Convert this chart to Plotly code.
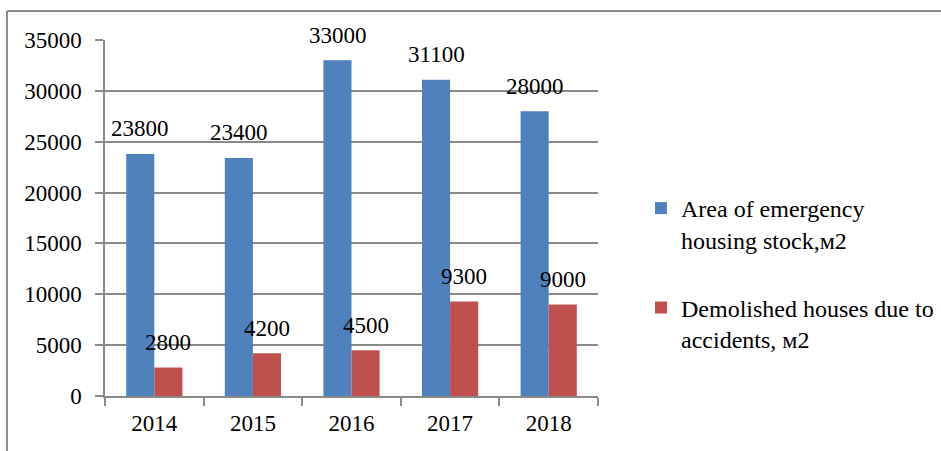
import plotly.graph_objects as go

years = ["2014", "2015", "2016", "2017", "2018"]
emergency_area = [23800, 23400, 33000, 31100, 28000]
demolished = [2800, 4200, 4500, 9300, 9000]
series_names = ["Area of emergency<br>housing stock,м2", "Demolished houses due to<br>accidents, м2"]
y_ticks = [0, 5000, 10000, 15000, 20000, 25000, 30000, 35000]

W, H = 941, 451
L, R, T, B = 105, 941 - 598, 40, 451 - 396
FONT = dict(family="Liberation Serif, Times New Roman, serif", size=23, color="#000000")
LFONT = dict(family="Liberation Serif, Times New Roman, serif", size=24, color="#000000")
GRID = "#8a8a8a"

fig = go.Figure()
fig.add_trace(go.Bar(x=years, y=emergency_area, name=series_names[0],
                     marker=dict(color="#4F81BD", line=dict(width=0)), legendgroup="a"))
fig.add_trace(go.Bar(x=years, y=demolished, name=series_names[1],
                     marker=dict(color="#C0504D", line=dict(width=0)), legendgroup="b"))

# data labels (category index positions on the category axis)
for vals, shift in ((emergency_area, -14), (demolished, 14)):
    for i, v in enumerate(vals):
        fig.add_annotation(x=i, y=v, text=str(v), showarrow=False,
                           xshift=shift, yshift=25, yanchor="middle",
                           font=FONT)

pw = W - L - R
ph = H - T - B
# chart border (top and left edges visible)
fig.add_shape(type="line", xref="paper", yref="paper",
              x0=(7 - L) / pw, x1=(W + 5 - L) / pw, y0=(H - B - 11) / ph, y1=(H - B - 11) / ph,
              line=dict(color="#8c8c8c", width=2))
fig.add_shape(type="line", xref="paper", yref="paper",
              x0=(7 - L) / pw, x1=(7 - L) / pw, y0=(H - B - 11) / ph, y1=-(B + 10) / ph,
              line=dict(color="#8c8c8c", width=2))

fig.update_layout(
    width=W, height=H,
    margin=dict(l=L, r=R, t=T, b=B, autoexpand=False),
    paper_bgcolor="white", plot_bgcolor="white",
    font=FONT,
    barmode="group", bargap=0.43, bargroupgap=0,
    showlegend=True,
    legend=dict(xref="container", yref="container", x=641 / W, y=1 - 186 / H,
                xanchor="left", yanchor="top", valign="top",
                font=LFONT, tracegroupgap=34, traceorder="grouped",
                bgcolor="rgba(0,0,0,0)"),
    xaxis=dict(type="category", range=[-0.5, len(years) - 0.5], showline=True,
               linecolor=GRID, linewidth=1.5, ticks="outside",
               tickcolor=GRID, ticklen=8, tickwidth=1.5, tickson="boundaries",
               showgrid=False, ticklabelstandoff=6, tickfont=FONT, tickangle=0,
               automargin=False),
    yaxis=dict(range=[0, 35000], tickvals=y_ticks, tickformat="d", showline=True, linecolor=GRID,
               linewidth=1.5, ticks="outside", tickcolor=GRID, ticklen=8, tickwidth=1.5,
               showgrid=True, gridcolor=GRID, gridwidth=1.5, zeroline=False,
               ticklabelstandoff=9, tickfont=FONT, automargin=False),
)

fig.write_html("out.html", config={"displayModeBar": False},
               post_script="document.body.style.margin='0';")
